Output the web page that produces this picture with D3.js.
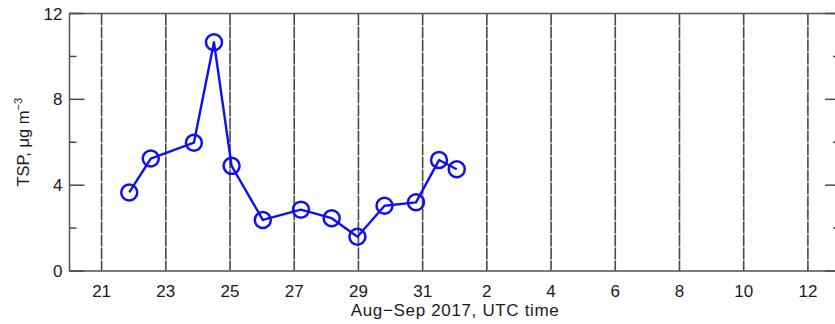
<!DOCTYPE html>
<html>
<head>
<meta charset="utf-8">
<script src="https://cdn.jsdelivr.net/npm/d3@7"></script>
<style>
  html, body { margin: 0; padding: 0; background: #fff; }
  svg { display: block; }
  text { font-family: "Liberation Sans", Arial, Helvetica, sans-serif; fill: #1a1a1a; }
</style>
</head>
<body>
<svg id="chart" width="835" height="324"></svg>
<script>
// Total suspended particulates, sample mid-times (UTC) and concentrations
const sampleTimes = [
  "2017-08-21T20:40Z", "2017-08-22T12:45Z", "2017-08-23T21:00Z", "2017-08-24T12:00Z",
  "2017-08-25T01:10Z", "2017-08-26T00:30Z", "2017-08-27T05:00Z", "2017-08-28T04:00Z",
  "2017-08-28T23:15Z", "2017-08-29T19:30Z", "2017-08-30T19:00Z", "2017-08-31T12:15Z",
  "2017-09-01T01:30Z"
];
const tspValues = [3.66, 5.24, 5.98, 10.66, 4.90, 2.38, 2.86, 2.46, 1.60, 3.04, 3.20, 5.17, 4.74];

// Axis ticks
const xTickDates = [
  "2017-08-21", "2017-08-23", "2017-08-25", "2017-08-27", "2017-08-29", "2017-08-31",
  "2017-09-02", "2017-09-04", "2017-09-06", "2017-09-08", "2017-09-10", "2017-09-12"
];
const yMajorTicks = [0, 4, 8, 12];
const yMinorTicks = [2, 6, 10];

const xDomain = ["2017-08-20", "2017-09-13"];
const yDomain = [0, 12];

const svg = d3.select("#chart");
const margin = { left: 69.5, right: -5, top: 13.5, bottom: 53 };
const W = 835, H = 324;
const x0 = margin.left, x1 = W - margin.right;
const y0 = H - margin.bottom, y1 = margin.top;

const x = d3.scaleUtc().domain(xDomain.map(d => new Date(d + "T00:00Z"))).range([x0, x1]);
const y = d3.scaleLinear().domain(yDomain).range([y0, y1]);

const data = sampleTimes.map((t, i) => ({ t: new Date(t), v: tspValues[i] }));
const ticks = xTickDates.map(d => new Date(d + "T00:00Z"));

// Vertical day grid lines
svg.append("g")
  .selectAll("line")
  .data(ticks)
  .join("line")
  .attr("x1", d => x(d)).attr("x2", d => x(d))
  .attr("y1", y1).attr("y2", y0)
  .attr("stroke", "#484848")
  .attr("stroke-width", 1.6)
  .attr("stroke-dasharray", "12,1");

// Frame
svg.append("rect")
  .attr("x", x0).attr("y", y1)
  .attr("width", x1 - x0).attr("height", y0 - y1)
  .attr("fill", "none")
  .attr("stroke", "#5a5a5a")
  .attr("stroke-width", 1.6);

// Left and right y ticks pointing inward
const yTickG = svg.append("g").attr("stroke", "#4a4a4a").attr("stroke-width", 1.5);
const yTicks = yMajorTicks.map(v => ({ v, len: 15 })).concat(yMinorTicks.map(v => ({ v, len: 7 })));
yTickG.selectAll("line.l").data(yTicks).join("line").attr("class", "l")
  .attr("x1", x0).attr("x2", d => x0 + d.len)
  .attr("y1", d => y(d.v)).attr("y2", d => y(d.v));
yTickG.selectAll("line.r").data(yTicks).join("line").attr("class", "r")
  .attr("x1", x1).attr("x2", d => x1 - d.len)
  .attr("y1", d => y(d.v)).attr("y2", d => y(d.v));

// Y tick labels
svg.append("g").selectAll("text")
  .data(yMajorTicks)
  .join("text")
  .attr("x", x0 - 7)
  .attr("y", d => y(d))
  .attr("dy", "0.36em")
  .attr("text-anchor", "end")
  .attr("font-size", 17)
  .text(d => d);

// X tick labels (day of month)
svg.append("g").selectAll("text")
  .data(ticks)
  .join("text")
  .attr("x", d => x(d))
  .attr("y", 297)
  .attr("text-anchor", "middle")
  .attr("font-size", 17)
  .text(d => d3.utcFormat("%-d")(d));

// X axis title
svg.append("text")
  .attr("x", (x0 + x1) / 2)
  .attr("y", 316)
  .attr("text-anchor", "middle")
  .attr("font-size", 17)
  .attr("textLength", 208)
  .text("Aug\u2212Sep 2017, UTC time");

// Y axis title
const yt = svg.append("text")
  .attr("transform", `translate(29,${(y0 + y1) / 2}) rotate(-90)`)
  .attr("text-anchor", "middle")
  .attr("font-size", 16.5);
yt.append("tspan").text("TSP, \u03bcg m");
yt.append("tspan").attr("dy", -7).attr("font-size", 11).text("\u22123");

// Series line and markers
const line = d3.line().x(d => x(d.t)).y(d => y(d.v));
svg.append("path")
  .datum(data)
  .attr("d", line)
  .attr("fill", "none")
  .attr("stroke", "#1010ee")
  .attr("stroke-width", 2.4)
  .attr("stroke-linejoin", "round");

svg.append("g").selectAll("circle")
  .data(data)
  .join("circle")
  .attr("cx", d => x(d.t))
  .attr("cy", d => y(d.v))
  .attr("r", 8)
  .attr("fill", "none")
  .attr("stroke", "#1010ee")
  .attr("stroke-width", 2.5);
</script>
</body>
</html>
